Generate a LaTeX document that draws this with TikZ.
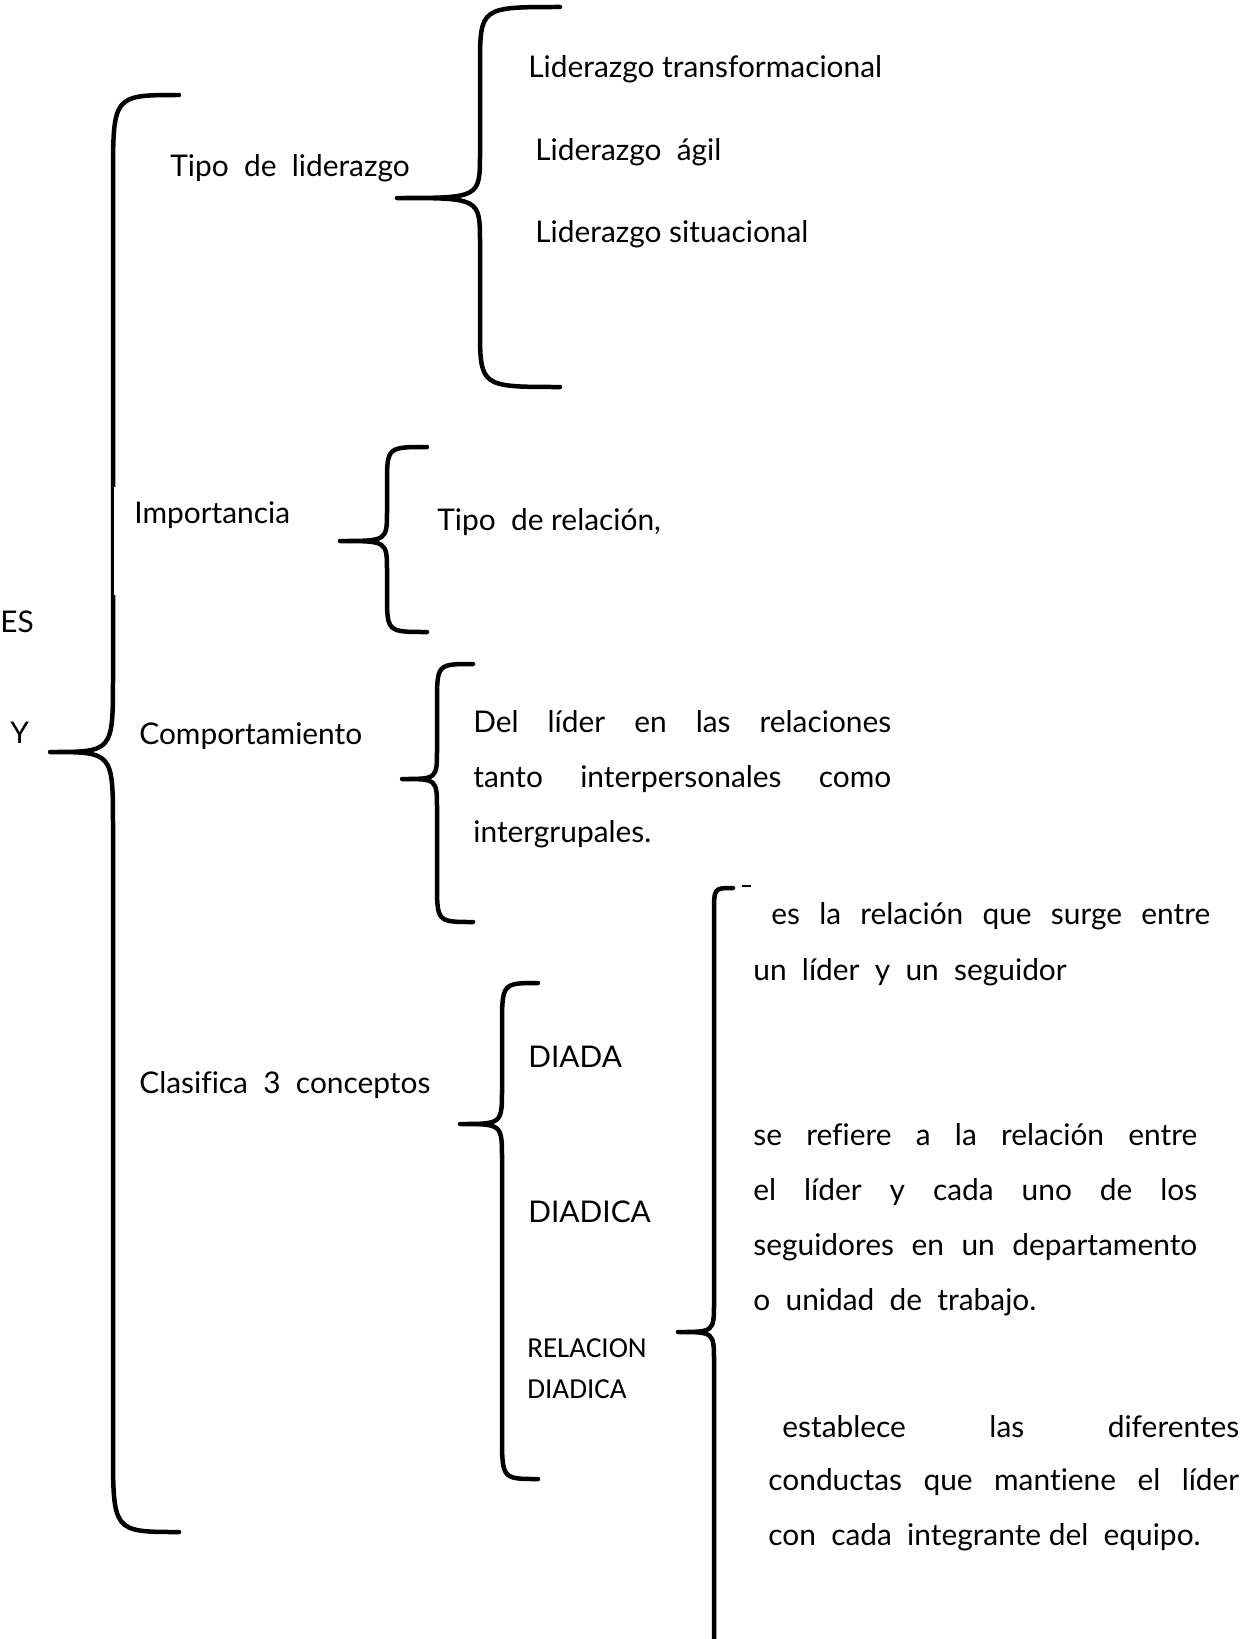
\documentclass[tikz,border=0pt]{standalone}
\usepackage{fontspec}
\setmainfont{Lato}[Ligatures=NoCommon]
\newfontfamily\smallfont{Carlito}

\tikzset{
  bracepath/.style={line width=0.09cm, line cap=round, line join=round},
  txt/.style={anchor=base west, inner sep=0pt, font=\fontsize{17}{20}\selectfont},
  smalltxt/.style={txt, font=\smallfont\fontsize{16.5}{19}\selectfont},
}

% name, end x, top y, stem x, tip x, tip y, bottom y, end radius, tip radius
\newcommand{\curlybrace}[9]{%
  \draw[bracepath] (#2,#3) .. controls (#4,#3) .. (#4,#3+#8)
    -- (#4,#6-#9) .. controls (#4,#6) .. (#5,#6) coordinate (#1)
    .. controls (#4,#6) .. (#4,#6+#9)
    -- (#4,#7-#8) .. controls (#4,#7) .. (#2,#7);}
\newcommand{\jline}[2]{\makebox[#1][s]{#2}}

\begin{document}
\begin{tikzpicture}[x=0.02cm, y=-0.02cm]
\clip (0,0) rectangle (1243,1639);

%%%%%%%%%%%%%%%%%%%%%%%%%%%%%%%%%%%%%%%%
% main brace
\curlybrace{root}{179}{95}{113}{50}{752}{1532}{85}{75}
\fill[white] (114,487) rectangle (300,595);
\node[txt] (es) at (0,632) {ES};
\node[txt] (y) at (10,743) {Y};

\node[txt] (tipo)   at (170,176)  {Tipo\ \ de\ \ liderazgo};
\node[txt] (import) at (134,523)  {Importancia};
\node[txt] (comp)   at (139,744)  {Comportamiento};
\node[txt] (clasif) at (139,1093) {Clasifica\ \ 3\ \ conceptos};

%%%%%%%%%%%%%%%%%%%%%%%%%%%%%%%%%%%%%%%%
% tipo de liderazgo
\curlybrace{tipotip}{560}{7}{480}{397}{198}{387}{60}{45}
\node[txt] (transf) at (528,78)  {Liderazgo transformacional};
\node[txt] (agil)   at (535,160) {Liderazgo\ \ ágil};
\node[txt] (situac) at (535,242) {Liderazgo situacional};

%%%%%%%%%%%%%%%%%%%%%%%%%%%%%%%%%%%%%%%%
% importancia
\curlybrace{importtip}{427}{447}{387}{340}{541}{632}{38}{30}
\node[txt] (relac) at (437,530) {Tipo\ \ de relación,};

%%%%%%%%%%%%%%%%%%%%%%%%%%%%%%%%%%%%%%%%
% comportamiento
\curlybrace{comptip}{473}{664}{437}{402}{779}{922}{40}{30}
\node[txt] (del1) at (473,732) {\jline{8.36cm}{Del líder en las relaciones}};
\node[txt] (del2) at (473,787) {\jline{8.36cm}{tanto interpersonales como}};
\node[txt] (del3) at (473,842) {intergrupales.};

%%%%%%%%%%%%%%%%%%%%%%%%%%%%%%%%%%%%%%%%
% clasifica 3 conceptos
\curlybrace{clasiftip}{538}{983}{502}{460}{1124}{1479}{45}{35}
\node[txt] (diada)   at (528,1067) {DIADA};
\node[txt] (diadica) at (528,1222) {DIADICA};
\node[smalltxt] (rel1) at (527,1357) {RELACION};
\node[smalltxt] (rel2) at (527,1398) {DIADICA};

%%%%%%%%%%%%%%%%%%%%%%%%%%%%%%%%%%%%%%%%
% definiciones
\curlybrace{deftip}{733}{888}{714}{678}{1332}{1720}{25}{30}
\draw[line width=0.6pt] (742,886) -- (751,886);
\node[txt] (surge1) at (771,924)  {\jline{8.78cm}{es la relación que surge entre}};
\node[txt] (surge2) at (753,980)  {un\ \ líder\ \ y\ \ un\ \ seguidor};
\node[txt] (ref1)   at (753,1145) {\jline{8.88cm}{se refiere a la relación entre}};
\node[txt] (ref2)   at (753,1200) {\jline{8.88cm}{el líder y cada uno de los}};
\node[txt] (ref3)   at (753,1255) {\jline{8.88cm}{seguidores en un departamento}};
\node[txt] (ref4)   at (753,1310) {o\ \ unidad\ \ de\ \ trabajo.};
\node[txt] (est1)   at (782,1437) {\jline{9.14cm}{establece las diferentes}};
\node[txt] (est2)   at (768,1490) {\jline{9.42cm}{conductas que mantiene el líder}};
\node[txt] (est3)   at (768,1545) {con\ \ cada\ \ integrante del\ \ equipo.};
\end{tikzpicture}
\end{document}
